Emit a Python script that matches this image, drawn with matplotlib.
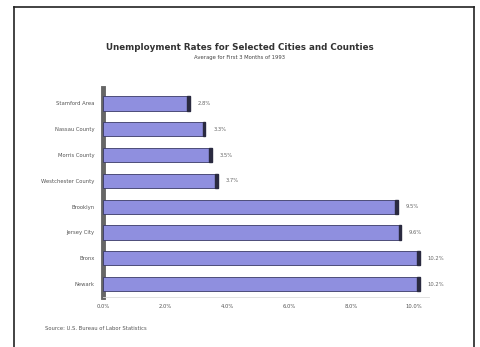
import numpy as np
import matplotlib.pyplot as plt
from matplotlib.patches import Rectangle

# datos
places = ["Stamford Area", "Nassau County", "Morris County", "Westchester County",
          "Brooklyn", "Jersey City", "Bronx", "Newark"]
rates = [2.8, 3.3, 3.5, 3.7, 9.5, 9.6, 10.2, 10.2]
rate_labels = ["2.8%", "3.3%", "3.5%", "3.7%", "9.5%", "9.6%", "10.2%", "10.2%"]
ticks = [0, 2, 4, 6, 8, 10]
tick_labels = ["0.0%", "2.0%", "4.0%", "6.0%", "8.0%", "10.0%"]

fig = plt.figure(figsize=(4.8, 3.47), dpi=100)
fig.patch.set_facecolor("white")

# marco de la hoja (izq, arriba, der)
fig.add_artist(plt.Line2D([14/480, 14/480], [0, 1 - 7/347], color="#222222", lw=1.2))
fig.add_artist(plt.Line2D([14/480, 474/480], [1 - 7/347, 1 - 7/347], color="#222222", lw=1.2))
fig.add_artist(plt.Line2D([474/480, 474/480], [0, 1 - 7/347], color="#222222", lw=1.2))

ax = fig.add_axes([103/480, 1 - 297/347, 326/480, 209/347])
y = np.arange(len(places))
h = 0.55
ax.barh(y, rates, height=h, color="#8f8fdf", edgecolor="#3a3a66", linewidth=0.6, zorder=3)
# tapa oscura al final de cada barra (efecto 3D)
for yi, r in zip(y, rates):
    ax.add_patch(Rectangle((r - 0.08, yi - h/2), 0.08, h, color="#2a2a40", zorder=4))
    ax.text(r + 0.25, yi, rate_labels[yi], va="center", ha="left", fontsize=3.8, color="#666666")

ax.set_xlim(0, 10.5)
ax.set_ylim(len(places) - 0.5, -0.6)
ax.set_yticks(y)
ax.set_yticklabels(places, fontsize=3.8, color="#555555")
ax.set_xticks(ticks)
ax.set_xticklabels(tick_labels, fontsize=3.8, color="#555555")
ax.tick_params(axis="y", length=0, pad=6)
ax.tick_params(axis="x", length=0, pad=5)
for s in ["top", "right"]:
    ax.spines[s].set_visible(False)
ax.spines["left"].set_color("#666666")
ax.spines["left"].set_linewidth(3.5)
ax.spines["bottom"].set_color("#dddddd")
ax.spines["bottom"].set_linewidth(0.6)

fig.text(0.5, 1 - 47/347, "Unemployment Rates for Selected Cities and Counties",
         ha="center", va="center", fontsize=6.3, fontweight="bold", color="#333333")
fig.text(0.5, 1 - 57/347, "Average for First 3 Months of 1993",
         ha="center", va="center", fontsize=3.8, color="#444444")
fig.text(45/480, 1 - 328/347, "Source: U.S. Bureau of Labor Statistics",
         ha="left", va="center", fontsize=3.8, color="#555555")

fig.savefig("out.png", dpi=100)
